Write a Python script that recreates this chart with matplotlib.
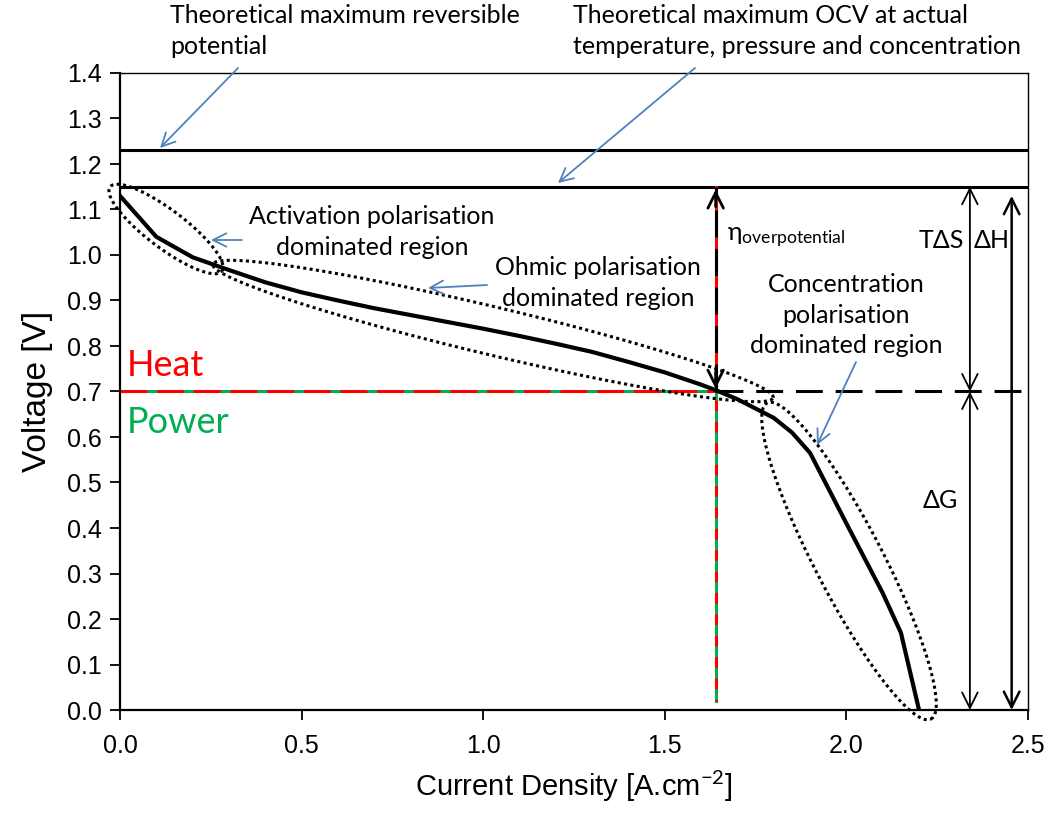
import numpy as np
import matplotlib
matplotlib.use('Agg')
import matplotlib.pyplot as plt

plt.rcParams['mathtext.fontset'] = 'custom'
plt.rcParams['mathtext.rm'] = 'Lato'
plt.rcParams['mathtext.it'] = 'Lato:italic'

# polarisation curve
current = [0.0, 0.1, 0.2, 0.3, 0.4, 0.5, 0.6, 0.7, 0.8, 0.9, 1.0, 1.1, 1.2,
           1.3, 1.4, 1.5, 1.6, 1.64, 1.7, 1.8, 1.85, 1.9, 2.0, 2.1, 2.15, 2.2]
voltage = [1.13, 1.04, 0.995, 0.967, 0.94, 0.918, 0.9, 0.883, 0.868, 0.853,
           0.838, 0.822, 0.805, 0.787, 0.765, 0.742, 0.715, 0.703, 0.683,
           0.642, 0.61, 0.565, 0.41, 0.257, 0.17, 0.0]

e_rev = 1.23      # theoretical max reversible potential
e_ocv = 1.15      # theoretical max OCV
v_op = 0.70       # operating voltage
i_op = 1.64       # operating current density
x_tds = 2.34
x_dh = 2.455
dh_top = 1.13

xticks = [0.0, 0.5, 1.0, 1.5, 2.0, 2.5]
yticks = np.round(np.arange(0, 1.41, 0.1), 1)

body = ['Lato', 'DejaVu Sans']
arial = ['Liberation Sans', 'DejaVu Sans']
narrow = ['Liberation Sans Narrow', 'Liberation Sans', 'DejaVu Sans']
blue = '#4f81bd'
red = '#ff0000'
green = '#00b050'

fig = plt.figure(figsize=(10.53, 8.13), dpi=100)
ax = fig.add_axes([120 / 1053, 1 - 710 / 813, 908 / 1053, 637 / 813])
ax.set_xlim(0, 2.5)
ax.set_ylim(0, 1.4)

# reference lines
ax.plot([0, 2.5], [e_rev, e_rev], color='black', lw=2.2)
ax.plot([0, 2.5], [e_ocv, e_ocv], color='black', lw=2.2)

# heat / power lines
ax.plot([0, i_op], [v_op, v_op], color=green, lw=2.2)
ax.plot([0, i_op], [v_op, v_op], color=red, lw=2.2, linestyle=(0, (8.8, 3.2)))
ax.plot([i_op, i_op], [0.02, v_op], color=green, lw=2.2)
ax.plot([i_op, i_op], [0.02, v_op], color=red, lw=2.2, linestyle=(3, (3.5, 3.5)))
ax.plot([i_op, i_op], [v_op, e_ocv], color=red, lw=2.2)
ax.plot([i_op, i_op], [v_op, e_ocv], color='black', lw=2.2, linestyle=(0, (8.8, 3.8)))
ax.plot([i_op, 2.5], [v_op, v_op], color='black', lw=2.2, linestyle=(0, (8.8, 4.2)))

# overpotential arrow heads
ax.annotate('', xy=(i_op, e_ocv), xytext=(i_op, e_ocv - 0.05),
            arrowprops=dict(arrowstyle='->', lw=2, color='black', mutation_scale=28))
ax.annotate('', xy=(i_op, v_op), xytext=(i_op, v_op + 0.05),
            arrowprops=dict(arrowstyle='->', lw=2, color='black', mutation_scale=28))

# energy arrows
arr = dict(arrowstyle='<->', lw=1.3, color='black', mutation_scale=28,
           shrinkA=0, shrinkB=0)
ax.annotate('', xy=(x_tds, e_ocv), xytext=(x_tds, v_op), arrowprops=arr)
ax.annotate('', xy=(x_tds, v_op), xytext=(x_tds, 0), arrowprops=arr)
arr2 = dict(arr, lw=1.8)
ax.annotate('', xy=(x_dh, dh_top), xytext=(x_dh, 0), arrowprops=arr2)

# polarisation curve
ax.plot(current, voltage, color='black', lw=3, solid_joinstyle='miter')

# dotted ellipses (centre px, semi axes px, angle deg)
x0, y0 = ax.transData.transform((0, 0))
x1, y1 = ax.transData.transform((1, 1))
sx, sy = x1 - x0, y1 - y0


def px2data(px, py):
    return (px - 120) / 908 * 2.5, (710 - py) / 637 * 1.4


def ellipse(cpx, cpy, a, b, ang):
    t = np.linspace(0, 2 * np.pi, 300)
    th = np.radians(ang)
    dx = a * np.cos(t) * np.cos(th) - b * np.sin(t) * np.sin(th)
    dy = a * np.cos(t) * np.sin(th) + b * np.sin(t) * np.cos(th)
    cx, cy = px2data(cpx, cpy)
    ax.plot(cx + dx / sx, cy + dy / sy, color='black', lw=2.2,
            linestyle=(0, (1, 1.1)), clip_on=False)


ellipse(166, 229, 70, 19, -37)
ellipse(493, 331, 288, 24, -13.4)
ellipse(849, 561, 178, 34, -62.6)

# blue callout arrows
blue_arr = dict(arrowstyle='->', lw=1.3, color=blue, mutation_scale=24,
                shrinkA=0, shrinkB=0)
for tail, head in [((238, 68), (160, 148)), ((695, 68), (558, 183)),
                   ((242, 240), (211, 240)), ((487, 285), (428, 288)),
                   ((856, 362), (817, 445))]:
    ax.annotate('', xy=px2data(*head), xytext=px2data(*tail),
                arrowprops=blue_arr, annotation_clip=False)

# texts
fs = 18
ls = 1.42
ax.text(*px2data(170, 4), 'Theoretical maximum reversible\npotential', family=body,
        fontsize=fs, va='top', ha='left', linespacing=ls, clip_on=False)
ax.text(*px2data(573, 4), 'Theoretical maximum OCV at actual\ntemperature, pressure and concentration',
        family=body, fontsize=fs, va='top', ha='left', linespacing=ls, clip_on=False)
ax.text(*px2data(372, 232), 'Activation polarisation\ndominated region', family=body,
        fontsize=fs, va='center', ha='center', linespacing=ls)
ax.text(*px2data(598, 283), 'Ohmic polarisation\ndominated region', family=body,
        fontsize=fs, va='center', ha='center', linespacing=ls)
ax.text(*px2data(846, 315), 'Concentration\npolarisation\ndominated region', family=body,
        fontsize=fs, va='center', ha='center', linespacing=ls)
ax.text(*px2data(727, 238), r'η$_{\mathrm{overpotential}}$', family=body,
        fontsize=fs, va='center', ha='left')
ax.text(*px2data(941, 240), 'TΔS', family=body, fontsize=fs, va='center', ha='center')
ax.text(*px2data(992, 240), 'ΔH', family=body, fontsize=fs, va='center', ha='center')
ax.text(*px2data(940, 500), 'ΔG', family=body, fontsize=fs, va='center', ha='center')
ax.text(*px2data(127, 365), 'Heat', family=body, fontsize=26, color=red,
        va='center', ha='left')
ax.text(*px2data(127, 422), 'Power', family=body, fontsize=26, color=green,
        va='center', ha='left')

# axes styling
ax.set_xticks(xticks)
ax.set_xticklabels(['%.1f' % v for v in xticks], family=narrow, fontsize=18)
ax.set_yticks(yticks)
ax.set_yticklabels(['%.1f' % v for v in yticks], family=arial, fontsize=18)
ax.tick_params(direction='out', length=7, width=1.3, top=False, right=False)
ax.tick_params(axis='x', pad=10)
ax.tick_params(axis='y', pad=6)
for s in ['left', 'bottom']:
    ax.spines[s].set_linewidth(1.6)
for s in ['top', 'right']:
    ax.spines[s].set_linewidth(1.0)
ax.set_xlabel('Current Density [A.cm$^{-2}$]', family=arial, fontsize=21, labelpad=8)
ax.set_ylabel('Voltage [V]', family=arial, fontsize=24, labelpad=10)

fig.savefig('out.png', dpi=100)
